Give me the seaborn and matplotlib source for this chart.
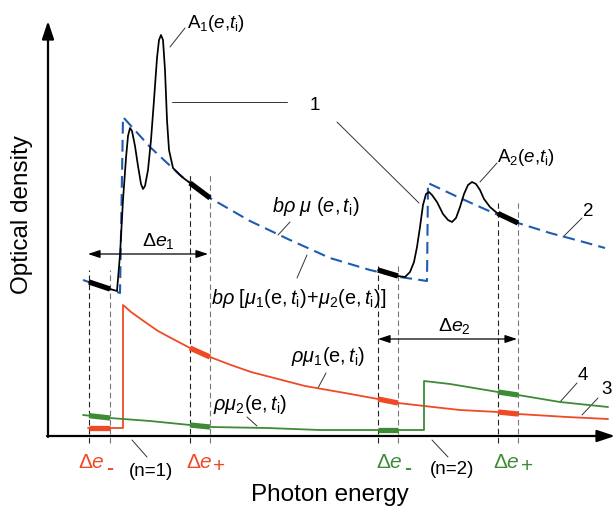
import numpy as np
import pandas as pd
import matplotlib
matplotlib.use('Agg')
import matplotlib.pyplot as plt
import seaborn as sns

# ---- data (x: photon energy, arb. units; y: optical density, arb. units) ----
blue_e = [83, 120, 123, 150, 180, 210, 250, 290, 330, 370, 400, 427, 428, 460, 498, 518, 550, 580, 605]
blue_d = [156, 143, 319, 289, 261, 238, 215, 196, 178, 166, 159, 155, 253, 238, 221, 213, 203, 195, 188]

a1_e = [89, 110, 117, 120, 123, 126, 128, 130, 132, 135, 138, 141, 143, 145, 148, 151, 154, 157, 159, 161, 163, 165, 167, 169, 173, 182, 190, 210]
a1_d = [154, 147, 145, 181, 236, 278, 300, 308, 305, 290, 270, 252, 247, 250, 266, 296, 336, 378, 396, 401, 396, 366, 316, 286, 268, 259, 253, 238]

a2_e = [378, 398, 405, 410, 414, 417, 420, 423, 426, 429, 432, 437, 443, 448, 452, 456, 460, 464, 468, 472, 476, 480, 484, 490, 497, 518]
a2_d = [166, 160, 159, 164, 174, 189, 209, 231, 242, 244, 241, 234, 222, 216, 214, 218, 229, 242, 251, 254, 252, 246, 237, 229, 223, 213]

red_e = [88, 123, 123, 131, 145, 158, 171, 190, 210, 231, 251, 278, 305, 345, 378, 398, 433, 460, 498, 518, 567, 608]
red_d = [8, 8, 131, 124, 114, 105, 98, 88, 79, 71, 64, 57, 50, 43, 37, 33, 29, 26, 24, 22, 19, 17]

green_e = [83, 110, 150, 190, 210, 267, 320, 378, 424, 424, 450, 498, 518, 560, 608]
green_d = [21, 18, 15, 11, 9, 8, 6, 6, 6, 55, 52, 44, 41, 34, 29]

win_lo = [89, 190, 378, 498]
win_hi = [110, 210, 398, 518]
marker_e = [89, 110, 190, 210, 378, 398, 498, 518]
marker_top = [166, 166, 261, 261, 171, 171, 233, 233]

RED = '#ef4a25'
GREEN = '#3f8a37'
BLUE = '#1f5cb0'

sns.set_theme(style='white')
plt.rcParams['font.family'] = ['Liberation Sans', 'DejaVu Sans']
plt.rcParams['mathtext.fontset'] = 'custom'
plt.rcParams['mathtext.rm'] = 'Liberation Sans'
plt.rcParams['mathtext.it'] = 'Liberation Sans:italic'
plt.rcParams['mathtext.bf'] = 'Liberation Sans:bold'
plt.rcParams['lines.scale_dashes'] = False

fig = plt.figure(figsize=(6.15, 5.08), dpi=100)
ax = fig.add_axes([0, 0, 1, 1])
ax.set_xlim(0, 615)
ax.set_ylim(-72, 436)
ax.axis('off')

# vertical dashed window markers
for i, (e, top) in enumerate(zip(marker_e, marker_top)):
    ax.plot([e, e], [-7, top], color='#222222' if i % 2 == 0 else '#777777',
            lw=0.8, dashes=(4, 2.5), zorder=1)

def curve(x, y, color, lw, dashed=False, z=3):
    sns.lineplot(x=x, y=y, sort=False, estimator=None, ax=ax, color=color,
                 lw=lw, zorder=z)
    ln = ax.lines[-1]
    ln.set_solid_joinstyle('round')
    if dashed:
        ln.set_dashes((8.5, 4.5))
    return ln

def thick(x, y, lo, hi, color, lw=3.8):
    xs = np.linspace(lo, hi, 12)
    ys = np.interp(xs, x, y)
    sns.lineplot(x=xs, y=ys, sort=False, estimator=None, ax=ax, color=color,
                 lw=lw, zorder=5, solid_capstyle='butt')

curve(blue_e, blue_d, BLUE, 1.5, dashed=True, z=3)
curve(a1_e, a1_d, 'black', 1.25, z=4)
curve(a2_e, a2_d, 'black', 1.25, z=4)
curve(red_e, red_d, RED, 1.3, z=3)
curve(green_e, green_d, GREEN, 1.3, z=3)

thick(a1_e, a1_d, win_lo[0], win_hi[0], 'black')
thick(a1_e, a1_d, win_lo[1], win_hi[1], 'black')
thick(a2_e, a2_d, win_lo[2], win_hi[2], 'black')
thick(a2_e, a2_d, win_lo[3], win_hi[3], 'black')
for lo, hi in zip(win_lo, win_hi):
    thick(red_e, red_d, lo, hi, RED)
    thick(green_e, green_d, lo, hi, GREEN)

# axes arrows
ax.annotate('', xy=(48, 415), xytext=(48, -1),
            arrowprops=dict(arrowstyle='-|>,head_length=0.9,head_width=0.3',
                            color='black', lw=1.6, shrinkA=0, shrinkB=0))
ax.annotate('', xy=(615, 0), xytext=(47, 0),
            arrowprops=dict(arrowstyle='-|>,head_length=0.9,head_width=0.3',
                            color='black', lw=1.6, shrinkA=0, shrinkB=0))

# double arrows
for lo, hi, y in [(88, 208, 182), (378, 517, 97)]:
    ax.annotate('', xy=(hi, y), xytext=(lo, y),
                arrowprops=dict(arrowstyle='<|-|>,head_length=0.6,head_width=0.2',
                                color='black', lw=0.9, shrinkA=0, shrinkB=0))

# leader lines
leaders = [((170, 389), (185, 408)), ((172, 334), (287, 334)), ((337, 314), (419, 233)),
           ((480, 254), (497, 273)), ((563, 199), (582, 218)), ((278, 201), (290, 214)),
           ((297, 158), (307, 181)), ((318, 48), (326, 63)), ((247, 19), (257, 10)),
           ((560, 34), (577, 53)), ((582, 21), (598, 38)), ((132, -4), (147, -21)),
           ((432, -4), (448, -21))]
for (x0, y0), (x1, y1) in leaders:
    ax.plot([x0, x1], [y0, y1], color='#333333', lw=0.7, zorder=2)

FS = 13.5
FS2 = 14.3
def txt(x, y, s, color='black', fs=FS, **kw):
    ax.text(x, y, s, color=color, fontsize=fs, ha=kw.pop('ha', 'center'),
            va='center', **kw)

txt(216, 413, r'A$_1$($e$,$t_\mathrm{i}$)')
txt(526, 279, r'A$_2$($e$,$t_\mathrm{i}$)')
txt(315, 331, '1')
txt(588, 225, '2')
txt(607, 47, '3')
txt(583, 61, '4')
txt(316, 229, r'$b\rho\ \mu\ (e,t_\mathrm{i})$', fs=FS2)
txt(299, 138, r'$b\rho\ [\mu_1(\mathrm{e},t_\mathrm{i})\!+\!\mu_2(\mathrm{e},t_\mathrm{i})]$', fs=FS2)
txt(328, 79, r'$\rho\mu_1(\mathrm{e},t_\mathrm{i})$', fs=FS2)
txt(250, 31, r'$\rho\mu_2(\mathrm{e},t_\mathrm{i})$', fs=FS2)
txt(158, 195, r'$\Delta e_1$', fs=14)
txt(454, 110, r'$\Delta e_2$', fs=14)
txt(151, -36, '(n=1)')
txt(452, -33, '(n=2)')

# window labels: Δe with large +/- subscripts
for xr, sub, col in [(105, '-', RED), (213, '+', RED), (403, '-', GREEN), (520, '+', GREEN)]:
    txt(xr, -26, r'$\Delta e$', color=col, fs=15, ha='right')
    if sub == '+':
        txt(xr + 0.5, -31, '+', color=col, fs=15, ha='left')
    else:
        txt(xr + 1.5, -33, '-', color=col, fs=15, ha='left', fontweight='bold')

txt(330, -59, 'Photon energy', fs=17.5)
txt(22, 221, 'Optical density', fs=17.5, rotation=90)

fig.savefig('out.png', dpi=100)
